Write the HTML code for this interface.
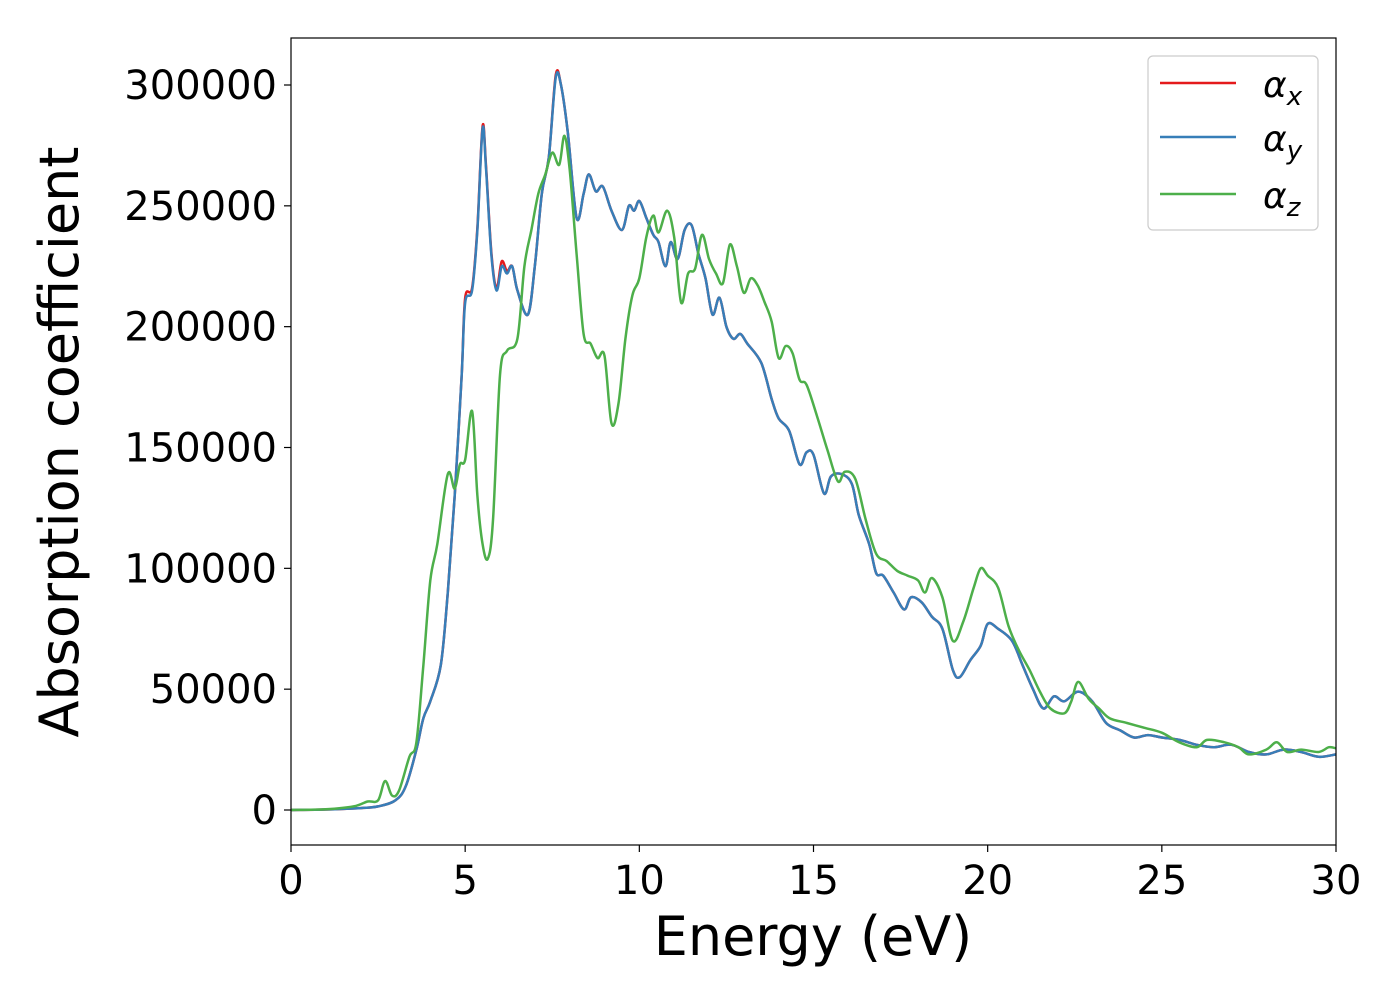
<!DOCTYPE html>
<html><head><meta charset="utf-8">
<style>
html,body{margin:0;padding:0;background:#fff;}
svg{display:block;font-family:"DejaVu Sans","Liberation Sans",sans-serif;}
</style></head>
<body>
<svg id="chart" width="1400" height="1000" viewBox="0 0 1400 1000" xmlns="http://www.w3.org/2000/svg">
<rect x="0" y="0" width="1400" height="1000" fill="#fff"/>
<g id="series"></g>
<rect x="291" y="38" width="1045" height="807" fill="none" stroke="#000" stroke-width="1.2"/>
<g id="xticks"></g>
<g id="yticks"></g>
<text x="813" y="955" font-size="54" text-anchor="middle">Energy (eV)</text>
<text transform="translate(78,442) rotate(-90)" font-size="54" text-anchor="middle">Absorption coefficient</text>
<g>
<rect x="1148" y="56" width="170" height="174" rx="5" fill="#fff" stroke="#ccc" stroke-width="1.2"/>
<g>
<line x1="1160" y1="83" x2="1236" y2="83" stroke="#e41a1c" stroke-width="2.5"/>
<text x="1263" y="97" font-size="36" font-style="italic">α<tspan font-size="26" dy="8">x</tspan></text></g>
<g>
<line x1="1160" y1="137" x2="1236" y2="137" stroke="#377eb8" stroke-width="2.5"/>
<text x="1263" y="151" font-size="36" font-style="italic">α<tspan font-size="26" dy="8">y</tspan></text></g>
<g>
<line x1="1160" y1="194" x2="1236" y2="194" stroke="#4daf4a" stroke-width="2.5"/>
<text x="1263" y="208" font-size="36" font-style="italic">α<tspan font-size="26" dy="8">z</tspan></text></g>
</g>
</svg>
<script>
const xTicks=[0,5,10,15,20,25,30];
const yTicks=[0,50000,100000,150000,200000,250000,300000];
const energyXY=[0,1,2,2.5,3,3.3,3.6,3.8,4,4.3,4.5,4.7,4.9,5.0,5.2,5.35,5.5,5.6,5.75,5.9,6.05,6.2,6.35,6.5,6.8,7.0,7.2,7.4,7.6,7.75,7.95,8.2,8.4,8.55,8.75,8.95,9.2,9.5,9.7,9.85,10.0,10.2,10.4,10.55,10.75,10.9,11.1,11.3,11.5,11.7,11.9,12.1,12.3,12.5,12.7,12.9,13.1,13.5,13.8,14.0,14.3,14.6,14.8,15.0,15.3,15.5,15.8,16.1,16.3,16.6,16.8,17.0,17.3,17.6,17.8,18.1,18.4,18.7,19.0,19.2,19.5,19.8,20.0,20.3,20.7,21.0,21.3,21.6,21.9,22.2,22.6,23.0,23.4,23.8,24.2,24.6,25,25.5,26,26.5,27,27.5,28,28.5,29,29.5,30];
const alphaY=[0,200,800,1500,4000,10000,25000,38000,45000,60000,90000,130000,180000,210000,215000,240000,282000,265000,230000,215000,225000,222000,225000,215000,205000,225000,255000,270000,303000,300000,280000,245000,255000,263000,256000,258000,248000,240000,250000,248000,252000,245000,238000,235000,225000,235000,228000,240000,242000,230000,220000,205000,212000,200000,195000,197000,193000,185000,170000,162000,157000,143000,148000,147000,131000,138000,139000,135000,122000,110000,98000,97000,90000,83000,88000,86000,80000,75000,58000,55000,62000,68000,77000,75000,70000,60000,50000,42000,47000,45000,49000,45000,36000,33000,30000,31000,30000,29000,27000,26000,27000,24000,23000,25000,24000,22000,23000];
const alphaX=[0,200,800,1500,4000,10000,25000,38000,45000,60000,90000,130000,180000,212000,216000,241000,283000,266000,231000,216000,227000,223000,225000,215000,205000,225000,255000,270000,304000,300000,280000,245000,255000,263000,256000,258000,248000,240000,250000,248000,252000,245000,238000,235000,225000,235000,228000,240000,242000,230000,220000,205000,212000,200000,195000,197000,193000,185000,170000,162000,157000,143000,148000,147000,131000,138000,139000,135000,122000,110000,98000,97000,90000,83000,88000,86000,80000,75000,58000,55000,62000,68000,77000,75000,70000,60000,50000,42000,47000,45000,49000,45000,36000,33000,30000,31000,30000,29000,27000,26000,27000,24000,23000,25000,24000,22000,23000];
const energyZ=[0,1,1.8,2.2,2.5,2.7,2.9,3.1,3.4,3.6,3.8,4.0,4.2,4.5,4.7,4.85,5.0,5.2,5.35,5.5,5.65,5.8,6.0,6.2,6.5,6.7,6.9,7.1,7.3,7.5,7.7,7.85,8.0,8.2,8.4,8.6,8.8,9.0,9.2,9.4,9.6,9.8,10.0,10.2,10.4,10.55,10.8,11.0,11.2,11.4,11.6,11.8,12.0,12.2,12.4,12.6,12.8,13.0,13.2,13.4,13.6,13.8,14.0,14.2,14.4,14.6,14.8,15.1,15.4,15.7,15.9,16.2,16.5,16.8,17.1,17.4,17.7,18.0,18.2,18.4,18.7,19.0,19.3,19.6,19.8,20.0,20.3,20.6,20.9,21.2,21.5,21.8,22.2,22.4,22.6,22.9,23.2,23.5,24,24.5,25,25.5,26,26.3,26.8,27.2,27.5,28,28.3,28.6,29,29.5,29.8,30];
const alphaZ=[0,300,1500,3500,4000,12000,6000,8000,22000,28000,60000,95000,110000,139000,133000,143000,145000,165000,130000,110000,104000,120000,180000,190000,195000,225000,240000,255000,263000,272000,267000,279000,265000,230000,197000,193000,187000,188000,160000,168000,195000,213000,220000,237000,246000,239000,248000,237000,210000,222000,224000,238000,228000,222000,218000,234000,225000,214000,220000,217000,210000,202000,187000,192000,189000,178000,176000,163000,149000,136000,140000,137000,120000,106000,103000,99000,97000,95000,90000,96000,88000,70000,78000,92000,100000,97000,92000,76000,66000,58000,49000,42000,40000,45000,53000,46000,42000,38000,36000,34000,32000,28000,26000,29000,28000,26000,23000,25000,28000,24000,25000,24000,26000,25500];

const X0=291,X1=1336,Y0=810,Y300=85;
function xs(v){return X0+(v-0)/30*(X1-X0);}
function ys(v){return Y0+(v/300000)*(Y300-Y0);}
const NS="http://www.w3.org/2000/svg";
function smoothPath(ex,vals){
  const p=ex.map((e,i)=>[xs(e),ys(vals[i])]);
  let d="M"+p[0][0].toFixed(1)+","+p[0][1].toFixed(1);
  for(let i=0;i<p.length-1;i++){
    const a=p[Math.max(0,i-1)],b=p[i],c=p[i+1],n=p[Math.min(p.length-1,i+2)];
    const c1=[b[0]+(c[0]-a[0])/6,b[1]+(c[1]-a[1])/6];
    const c2=[c[0]-(n[0]-b[0])/6,c[1]-(n[1]-b[1])/6];
    d+=" C"+c1[0].toFixed(1)+","+c1[1].toFixed(1)+" "+c2[0].toFixed(1)+","+c2[1].toFixed(1)+" "+c[0].toFixed(1)+","+c[1].toFixed(1);
  }
  return d;
}
const sg=document.getElementById("series");
function addLine(ex,vals,color,name){
  const el=document.createElementNS(NS,"path");
  el.setAttribute("d",smoothPath(ex,vals));
  el.setAttribute("fill","none");
  el.setAttribute("stroke",color);
  el.setAttribute("stroke-width","2.5");
  el.setAttribute("stroke-linejoin","round");
  
  
  sg.appendChild(el);
}
addLine(energyXY,alphaX,"#e41a1c","line-alpha-x");
addLine(energyXY,alphaY,"#377eb8","line-alpha-y");
addLine(energyZ,alphaZ,"#4daf4a","line-alpha-z");

const xg=document.getElementById("xticks");
xTicks.forEach(t=>{
  const l=document.createElementNS(NS,"line");
  l.setAttribute("x1",xs(t));l.setAttribute("x2",xs(t));
  l.setAttribute("y1",845);l.setAttribute("y2",852);
  l.setAttribute("stroke","#000");l.setAttribute("stroke-width","1.2");
  
  
  xg.appendChild(l);
  const tx=document.createElementNS(NS,"text");
  tx.setAttribute("x",xs(t));tx.setAttribute("y",894);
  tx.setAttribute("font-size","40");tx.setAttribute("text-anchor","middle");
  tx.textContent=t;
  
  
  xg.appendChild(tx);
});
const yg=document.getElementById("yticks");
yTicks.forEach(t=>{
  const l=document.createElementNS(NS,"line");
  l.setAttribute("x1",284);l.setAttribute("x2",291);
  l.setAttribute("y1",ys(t));l.setAttribute("y2",ys(t));
  l.setAttribute("stroke","#000");l.setAttribute("stroke-width","1.2");
  
  
  yg.appendChild(l);
  const tx=document.createElementNS(NS,"text");
  tx.setAttribute("x",277);tx.setAttribute("y",ys(t)+14);
  tx.setAttribute("font-size","40");tx.setAttribute("text-anchor","end");
  tx.textContent=t;
  
  
  yg.appendChild(tx);
});
</script>
</body></html>
